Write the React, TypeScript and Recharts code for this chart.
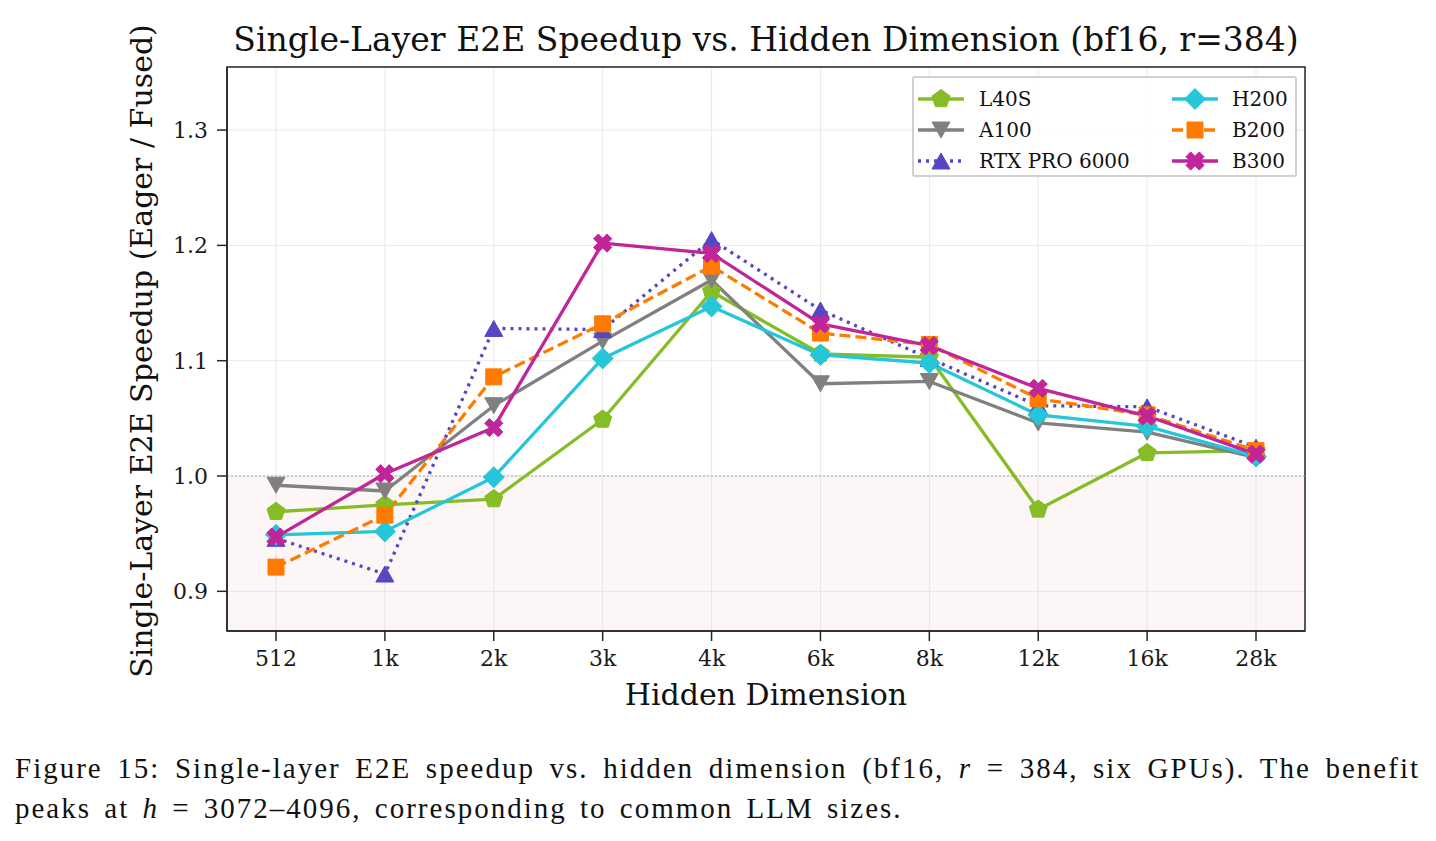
import React from 'react';
import {
  LineChart,
  Line,
  XAxis,
  YAxis,
  CartesianGrid,
  ReferenceArea,
  ReferenceLine,
} from 'recharts';

// Hidden dimension categories (x axis)
const hiddenDims = ['512', '1k', '2k', '3k', '4k', '6k', '8k', '12k', '16k', '28k'];

// Speedup (Eager / Fused) per GPU
const l40s = [0.969, 0.975, 0.980, 1.049, 1.160, 1.106, 1.103, 0.971, 1.020, 1.022];
const a100 = [0.992, 0.987, 1.061, 1.117, 1.170, 1.080, 1.082, 1.046, 1.038, 1.016];
const rtxPro6000 = [0.946, 0.915, 1.128, 1.127, 1.205, 1.144, 1.102, 1.061, 1.060, 1.025];
const h200 = [0.949, 0.952, 0.999, 1.102, 1.147, 1.105, 1.098, 1.053, 1.043, 1.017];
const b200 = [0.921, 0.966, 1.086, 1.132, 1.182, 1.124, 1.114, 1.067, 1.053, 1.022];
const b300 = [0.947, 1.002, 1.042, 1.202, 1.193, 1.132, 1.113, 1.076, 1.052, 1.019];

const yTicks = [0.9, 1.0, 1.1, 1.2, 1.3];
const yMin = 0.8656;
const yMax = 1.3547;
const xMin = -0.45;
const xMax = hiddenDims.length - 1 + 0.45;

type MarkerKind = 'pentagon' | 'tridown' | 'triup' | 'diamond' | 'square' | 'xfill';

interface SeriesDef {
  key: string;
  name: string;
  values: number[];
  color: string;
  marker: MarkerKind;
  dash?: string;
}

const series: SeriesDef[] = [
  { key: 'l40s', name: 'L40S', values: l40s, color: '#86bc25', marker: 'pentagon' },
  { key: 'a100', name: 'A100', values: a100, color: '#808080', marker: 'tridown' },
  { key: 'rtx', name: 'RTX PRO 6000', values: rtxPro6000, color: '#5546c4', marker: 'triup', dash: '3 5' },
  { key: 'h200', name: 'H200', values: h200, color: '#26c6da', marker: 'diamond' },
  { key: 'b200', name: 'B200', values: b200, color: '#ff7a00', marker: 'square', dash: '11 5' },
  { key: 'b300', name: 'B300', values: b300, color: '#c0259a', marker: 'xfill' },
];

const rows = hiddenDims.map((label, i) => {
  const row: Record<string, number | string> = { x: i, label };
  series.forEach((s) => {
    row[s.key] = s.values[i];
  });
  return row;
});

function markerPath(kind: MarkerKind, cx: number, cy: number): string {
  const pts: [number, number][] = [];
  if (kind === 'pentagon') {
    const r = 9.5;
    for (let k = 0; k < 5; k++) {
      const a = -Math.PI / 2 + (k * 2 * Math.PI) / 5;
      pts.push([cx + r * Math.cos(a), cy + r * Math.sin(a)]);
    }
  } else if (kind === 'tridown') {
    pts.push([cx - 9, cy - 8], [cx + 9, cy - 8], [cx, cy + 8]);
  } else if (kind === 'triup') {
    pts.push([cx - 9, cy + 8], [cx + 9, cy + 8], [cx, cy - 8]);
  } else if (kind === 'diamond') {
    const r = 10.5;
    pts.push([cx, cy - r], [cx + r, cy], [cx, cy + r], [cx - r, cy]);
  } else if (kind === 'square') {
    const r = 8;
    pts.push([cx - r, cy - r], [cx + r, cy - r], [cx + r, cy + r], [cx - r, cy + r]);
  } else {
    // filled "X": a plus sign rotated by 45 degrees
    const L = 9.5;
    const w = 3.4;
    const plus: [number, number][] = [
      [-w, -L], [w, -L], [w, -w], [L, -w], [L, w], [w, w],
      [w, L], [-w, L], [-w, w], [-L, w], [-L, -w], [-w, -w],
    ];
    const c = Math.SQRT1_2;
    plus.forEach(([px, py]) => {
      pts.push([cx + (px - py) * c, cy + (px + py) * c]);
    });
  }
  return 'M' + pts.map((p) => `${p[0].toFixed(2)},${p[1].toFixed(2)}`).join('L') + 'Z';
}

const makeDot = (s: SeriesDef) => (props: any) => {
  const { cx, cy, index } = props;
  if (cx == null || cy == null) return <g key={`${s.key}-${index}`} />;
  return (
    <path
      key={`${s.key}-${index}`}
      d={markerPath(s.marker, cx, cy)}
      fill={s.color}
      stroke={s.color}
      strokeWidth={1}
      strokeLinejoin="miter"
    />
  );
};

const serif = '"DejaVu Serif", serif';
const lineWidth = 3.3;

function LegendSample({ s }: { s: SeriesDef }) {
  return (
    <svg width={46} height={24} style={{ display: 'block' }}>
      <line x1={0} y1={12} x2={46} y2={12} stroke={s.color} strokeWidth={lineWidth} strokeDasharray={s.dash} />
      <path d={markerPath(s.marker, 23, 12)} fill={s.color} stroke={s.color} strokeWidth={1} />
    </svg>
  );
}

function LegendBox() {
  const cols = [series.slice(0, 3), series.slice(3)];
  return (
    <div
      style={{
        position: 'absolute',
        left: 912,
        top: 76,
        width: 381,
        height: 97,
        border: '2px solid #d0d0d0',
        borderRadius: 3,
        background: 'rgba(255,255,255,0.85)',
        fontFamily: serif,
        fontSize: 20,
        color: '#111',
      }}
    >
      {cols.map((col, ci) => (
        <div key={ci} style={{ position: 'absolute', left: ci === 0 ? 4 : 258, top: 5 }}>
          {col.map((s) => (
            <div key={s.key} style={{ display: 'flex', alignItems: 'center', height: 31 }}>
              <LegendSample s={s} />
              <span style={{ marginLeft: ci === 0 ? 15 : 14, whiteSpace: 'nowrap' }}>{s.name}</span>
            </div>
          ))}
        </div>
      ))}
    </div>
  );
}

export default function App() {
  return (
    <div
      style={{
        position: 'absolute',
        left: 0,
        top: 0,
        width: 1436,
        height: 841,
        background: '#ffffff',
        overflow: 'hidden',
      }}
    >
      <LineChart
        width={1436}
        height={841}
        data={rows}
        margin={{ top: 67, right: 131, bottom: 170, left: 147 }}
      >
        <ReferenceArea
          x1={xMin}
          x2={xMax}
          y1={yMin}
          y2={1.0}
          fill="#e8c4bc"
          fillOpacity={0.14}
          stroke="none"
          ifOverflow="hidden"
        />
        <CartesianGrid stroke="#e9e9e9" strokeWidth={1} />
        <XAxis
          dataKey="x"
          type="number"
          domain={[xMin, xMax]}
          ticks={hiddenDims.map((_, i) => i)}
          tickFormatter={(v: number) => hiddenDims[v] ?? ''}
          allowDataOverflow
          height={40}
          tickSize={10}
          tickMargin={9}
          axisLine={{ stroke: '#262626', strokeWidth: 1.5 }}
          tickLine={{ stroke: '#262626', strokeWidth: 1.5 }}
          tick={{ fill: '#1a1a1a', fontSize: 22, fontFamily: serif }}
          interval={0}
        />
        <YAxis
          type="number"
          domain={[yMin, yMax]}
          ticks={yTicks}
          tickFormatter={(v: number) => v.toFixed(1)}
          allowDataOverflow
          width={80}
          tickSize={10}
          tickMargin={9}
          axisLine={{ stroke: '#262626', strokeWidth: 1.5 }}
          tickLine={{ stroke: '#262626', strokeWidth: 1.5 }}
          tick={{ fill: '#1a1a1a', fontSize: 22, fontFamily: serif }}
        />
        <ReferenceLine y={1.0} stroke="#a8a8a8" strokeWidth={1.2} strokeDasharray="2 2" />
        {series.map((s) => (
          <Line
            key={s.key}
            dataKey={s.key}
            name={s.name}
            stroke={s.color}
            strokeWidth={lineWidth}
            strokeDasharray={s.dash}
            strokeLinejoin="round"
            type="linear"
            dot={makeDot(s)}
            activeDot={false}
            isAnimationActive={false}
          />
        ))}
        <ReferenceArea
          x1={xMin}
          x2={xMax}
          y1={yMin}
          y2={yMax}
          fill="none"
          fillOpacity={0}
          stroke="#262626"
          strokeWidth={1.5}
          ifOverflow="visible"
        />
      </LineChart>

      <div
        style={{
          position: 'absolute',
          left: 227,
          width: 1078,
          top: 22,
          lineHeight: '36px',
          textAlign: 'center',
          fontFamily: serif,
          fontSize: 33,
          color: '#111',
          whiteSpace: 'nowrap',
        }}
      >
        Single-Layer E2E Speedup vs. Hidden Dimension (bf16, r=384)
      </div>

      <div
        style={{
          position: 'absolute',
          left: 142 - 350,
          top: 351 - 16,
          width: 700,
          height: 32,
          lineHeight: '32px',
          textAlign: 'center',
          transform: 'rotate(-90deg)',
          transformOrigin: '50% 50%',
          fontFamily: serif,
          fontSize: 30,
          color: '#111',
          whiteSpace: 'nowrap',
        }}
      >
        Single-Layer E2E Speedup (Eager / Fused)
      </div>

      <div
        style={{
          position: 'absolute',
          left: 227,
          width: 1078,
          top: 679,
          lineHeight: '32px',
          textAlign: 'center',
          fontFamily: serif,
          fontSize: 30,
          color: '#111',
          whiteSpace: 'nowrap',
        }}
      >
        Hidden Dimension
      </div>

      <LegendBox />

      <div
        style={{
          position: 'absolute',
          left: 15,
          top: 748,
          width: 1405,
          fontFamily: '"Liberation Serif", "Times New Roman", serif',
          fontSize: 29,
          letterSpacing: 2.0,
          wordSpacing: 4,
          lineHeight: '40px',
          color: '#111',
        }}
      >
        <div style={{ textAlign: 'justify', textAlignLast: 'justify', whiteSpace: 'nowrap' as const }}>
          Figure 15: Single-layer E2E speedup vs. hidden dimension (bf16, <i>r</i> = 384, six GPUs). The benefit
        </div>
        <div style={{ textAlign: 'left' }}>
          peaks at <i>h</i> = 3072–4096, corresponding to common LLM sizes.
        </div>
      </div>
    </div>
  );
}
